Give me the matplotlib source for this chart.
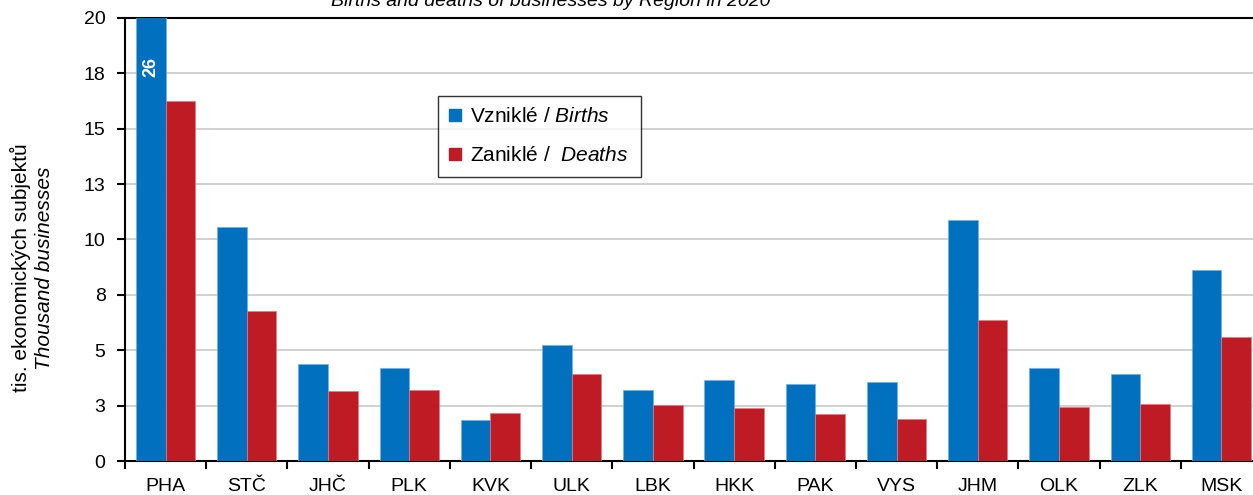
import matplotlib
matplotlib.use("Agg")
import matplotlib.pyplot as plt
import numpy as np
from matplotlib.patches import Patch

plt.rcParams['font.family'] = ['Liberation Sans', 'DejaVu Sans']
plt.rcParams['mathtext.fontset'] = 'custom'
plt.rcParams['mathtext.rm'] = 'Liberation Sans'
plt.rcParams['mathtext.it'] = 'Liberation Sans:italic'

regions = ["PHA", "STČ", "JHČ", "PLK", "KVK", "ULK", "LBK", "HKK", "PAK", "VYS", "JHM", "OLK", "ZLK", "MSK"]
births = [26.0, 10.56, 4.38, 4.2, 1.85, 5.24, 3.2, 3.66, 3.48, 3.57, 10.88, 4.2, 3.93, 8.62]
deaths = [16.25, 6.77, 3.16, 3.2, 2.17, 3.93, 2.53, 2.39, 2.12, 1.9, 6.37, 2.44, 2.57, 5.6]
yticks = [0, 2.5, 5, 7.5, 10, 12.5, 15, 17.5, 20]
ytick_labels = ["0", "3", "5", "8", "10", "13", "15", "18", "20"]

blue = "#0070bf"
red = "#be1b24"

fig = plt.figure(figsize=(12.53, 4.95), dpi=100)
ax = fig.add_axes([125/1253, 34/495, (1262-125)/1253, 443/495])

x = np.arange(len(regions))
w = 0.365
ax.bar(x - w/2, births, width=w, color=blue, edgecolor="#6fb0e6", linewidth=0.5, zorder=3)
ax.bar(x + w/2, deaths, width=w, color=red, edgecolor="#e27a80", linewidth=0.5, zorder=3)

ax.set_ylim(0, 20)
ax.set_xlim(-0.5, len(regions) - 0.5)
ax.set_yticks(yticks)
ax.set_yticklabels(ytick_labels, fontsize=14)
ax.yaxis.grid(True, color="#c8c8c8", linewidth=1.2, zorder=0)
ax.set_axisbelow(True)

ax.set_xticks(np.arange(len(regions) + 1) - 0.5)
ax.set_xticklabels([])
ax.set_xticks(x, minor=True)
ax.set_xticklabels(regions, minor=True, fontsize=14)
ax.tick_params(axis='x', which='minor', length=0, pad=12)
ax.tick_params(axis='x', which='major', length=6, width=1.5, direction='out')
ax.tick_params(axis='y', length=6, width=1.5, direction='out', pad=8)

for s in ['left', 'bottom', 'top']:
    ax.spines[s].set_linewidth(1.5)
ax.spines['right'].set_visible(False)

# clipped value label
for i, v in enumerate(births):
    if v > 20:
        ax.text(i - w/2, 20 - 1.75, f"{v:.0f}", rotation=90, color="white",
                fontsize=13, fontweight='bold', ha='center', va='top', zorder=4)

handles = [Patch(color=blue), Patch(color=red)]
labels = [r"Vzniklé / $\it{Births}$ ", r"Zaniklé /  $\it{Deaths}$ "]
leg = ax.legend(handles, labels, loc='upper left', bbox_to_anchor=((438-125)/1137, 1 - (96-18)/443),
                fontsize=15, frameon=True, fancybox=False, edgecolor='black',
                handlelength=0.53, handleheight=0.53, handletextpad=0.48,
                labelspacing=0.95, borderpad=0.55, borderaxespad=0)
leg.get_frame().set_linewidth(1.0)

fig.text(20/1253, 1 - 268/495, "tis. ekonomických subjektů", rotation=90, fontsize=15,
         ha='center', va='center')
fig.text(45/1253, 1 - 268/495, "Thousand businesses", rotation=90, fontsize=15,
         style='italic', ha='center', va='center')

fig.text(551/1253, 1 - 6/495, "Births and deaths of businesses by Region in 2020",
         fontsize=14, style='italic', ha='center', va='baseline')

fig.savefig("out.png", dpi=100)
